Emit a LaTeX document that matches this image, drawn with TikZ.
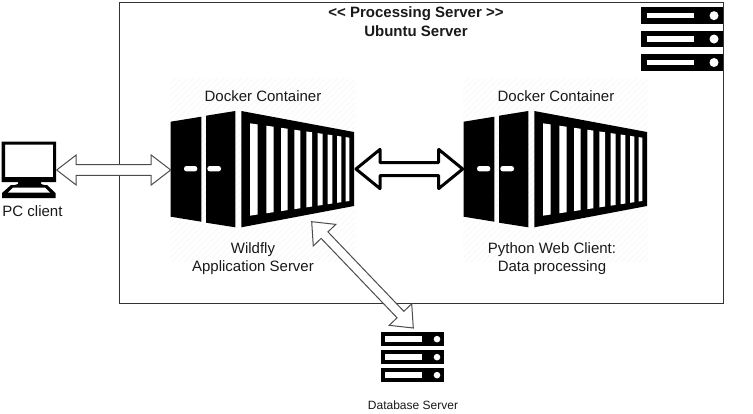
\documentclass[tikz,border=0pt]{standalone}
\usepackage{fontspec}
\setmainfont{Liberation Sans}
\usetikzlibrary{calc}
\definecolor{hatch}{HTML}{FAFAFA}
\definecolor{edgegrey}{HTML}{333333}
\tikzset{
  lbl/.style={align=center,inner sep=0pt,font=\fontsize{15}{18}\selectfont,text=black!90},
  ttl/.style={lbl,font=\fontsize{15}{17}\selectfont\bfseries},
  box/.style={draw=edgegrey,line width=1pt,fill=white},
  thinarrow/.style={draw=black!70,line width=1pt,fill=white,line join=miter},
  fatarrow/.style={draw=black,line width=3pt,fill=white,line join=round},
}
% block arrow: from,to,head length,head half width,shaft half width,style
\newcommand{\blockarrow}[6]{%
  \path let \p1=($(#2)-(#1)$),\n1={atan2(\y1,\x1)},\n2={veclen(\x1,\y1)} in
    [#6,shift={(#1)},rotate=\n1]
    (0pt,0pt)--(#3pt,#4pt)--(#3pt,#5pt)--({\n2-#3pt},#5pt)--({\n2-#3pt},#4pt)--(\n2,0pt)
    --({\n2-#3pt},-#4pt)--({\n2-#3pt},-#5pt)--(#3pt,-#5pt)--(#3pt,-#4pt)--cycle;%
}
% shipping container, shifted right by #1
\newcommand{\shipbox}[1]{%
  \begin{scope}[shift={(#1,0)}]
    \begin{scope}
      \clip (170,78) rectangle (355,262);
      \foreach \k in {0,6,...,370}{\draw[hatch,line width=1.4pt] (170+\k-184,262)--(170+\k,78);}
    \end{scope}
    \fill (170.7,121.7)--(201.3,116.7)--(201.3,221.7)--(170.7,216.7)--cycle;
    \fill (206,115.7)--(235.3,111)--(235.3,227.3)--(206,222.7)--cycle;
    \fill (241.3,111)--(354,132)--(354,206)--(241.3,227.3)--cycle;
    \fill[white,rounded corners=2.5pt] (184,166)rectangle(197.3,171.4);
    \fill[white,rounded corners=2.5pt] (207.3,166)rectangle(221,171.4);
    \foreach \a/\b in {300/323,349/371,393/413,433/451,469/486,503/518,533/547,561/574,587/598}{
      \fill[white]
        (150+\a/3,{70+(160+(\a-300)*0.1443)/3})--
        (150+\b/3,{70+(160+(\b-300)*0.1443)/3})--
        (150+\b/3,{70+(437-(\b-300)*0.1477)/3})--
        (150+\a/3,{70+(437-(\a-300)*0.1477)/3})--cycle;
    }
  \end{scope}%
}
\newcommand{\rackrow}[8]{%
  \fill (#1,#7) rectangle (#2,#8);
  \fill[white] (#3,{(#7+#8)/2-2.7}) rectangle (#4,{(#7+#8)/2+2.7});
  \fill[white] (#5,{(#7+#8)/2}) circle (#6);%
}
\begin{document}
\begin{tikzpicture}[x=1pt,y=-1pt]
\useasboundingbox (0,0) rectangle (753,413);
\fill[white] (0,0) rectangle (753,413);
\node[box,anchor=north west,minimum width=604pt,minimum height=301.5pt,inner sep=0pt] (srv) at (119,1.5) {};
\shipbox{0}
\shipbox{293}
\coordinate (pcr) at (56.7,170);
\coordinate (cl) at (170.7,170);
\coordinate (clr) at (356,169);
\coordinate (c2l) at (462.7,169);
\coordinate (wf) at (311.7,221.7);
\coordinate (dbt) at (413.3,328);
% top right rack
\rackrow{640.7}{722.7}{646.7}{693.7}{714}{4.5}{7.3}{24}
\rackrow{640.7}{722.7}{646.7}{693.7}{714}{4.5}{30.7}{47.3}
\rackrow{640.7}{722.7}{646.7}{693.7}{714}{4.5}{54}{71}
% database rack
\rackrow{381}{444}{385.3}{422}{437}{3.3}{332.3}{346}
\rackrow{381}{444}{385.3}{422}{437}{3.3}{350.3}{364}
\rackrow{381}{444}{385.3}{422}{437}{3.3}{368.3}{382}
% PC
\fill[even odd rule] (1.7,141.7) rectangle (56,182) (5,144.5) rectangle (53,177);
\fill (18,182)--(41,182)--(41,184)--(46,185.5)--(13,185.5)--(18,184)--cycle;
\fill (11,185)--(47,185)--(55.5,193)--(55.5,198)--(2,198)--(2,193)--cycle;
\fill[white] (13,187.5)--(45,187.5)--(50,192.5)--(8,192.5)--cycle;
% arrows
\blockarrow{pcr}{cl}{19.5}{15}{5.3}{thinarrow}
\blockarrow{clr}{c2l}{24}{19.6}{6.5}{fatarrow}
\blockarrow{wf}{dbt}{18.6}{15.6}{4.7}{thinarrow}
% texts
\node[ttl] (t1) at (416,14) {<{}< Processing Server >{}>};
\node[ttl] (t2) at (416,31) {Ubuntu Server};
\node[lbl] (d1) at (263,96) {Docker Container};
\node[lbl] (d2) at (556,96) {Docker Container};
\node[lbl] (w1) at (253,249.5) {Wildfly};
\node[lbl] (w2) at (253,267.5) {Application Server};
\node[lbl] (p1) at (552,249.5) {Python Web Client:};
\node[lbl] (p2) at (552,267.5) {Data processing};
\node[lbl] (pc) at (32.5,211) {PC client};
\node[lbl,font=\fontsize{12}{14}\selectfont] (db) at (413,405) {Database Server};
\end{tikzpicture}
\end{document}
